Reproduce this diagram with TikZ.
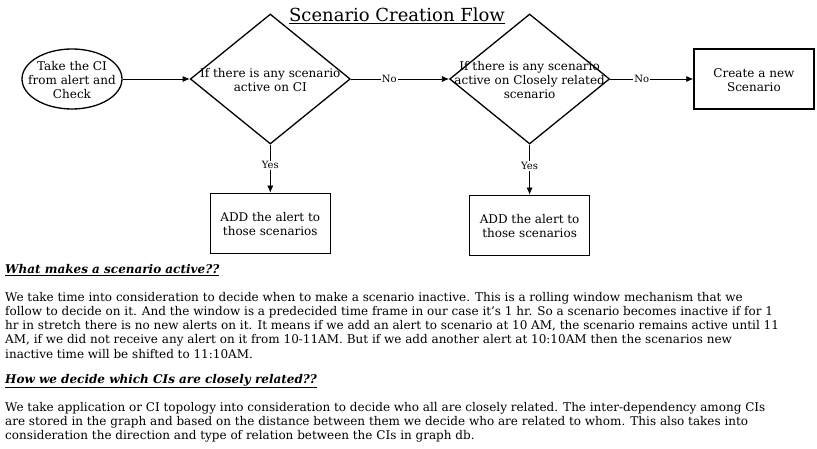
\documentclass[tikz,border=0pt]{standalone}
\usepackage{fontspec}
\setmainfont{DejaVu Serif}
\usetikzlibrary{shapes,arrows,arrows.meta,positioning}

% text that does not grow the shape round it
\newcommand{\flatbox}[1]{\smash{\makebox[0pt]{\raisebox{-.47em}{\begin{tabular}{@{}c@{}}#1\end{tabular}}}}}

\begin{document}
\begin{tikzpicture}[x=1pt, y=-1pt,
        every node/.style={font=\fontsize{12}{14}\selectfont},
        startnode/.style={ellipse, draw, line width=1.3pt, minimum width=100pt, minimum height=60pt, inner sep=0pt},
        decision/.style={diamond, draw, line width=1.3pt, minimum width=160pt, minimum height=130pt, inner sep=0pt},
        process/.style={rectangle, draw, line width=1.3pt, minimum width=120pt, minimum height=60pt, inner sep=0pt},
        arrow/.style={-{Latex[length=7pt,width=6pt]}, line width=0.7pt},
        lbl/.style={fill=white, inner sep=1pt, font=\fontsize{10}{12}\selectfont},
        heading/.style={anchor=west, inner sep=0pt, font=\fontsize{12}{14}\selectfont\bfseries\itshape},
        para/.style={anchor=north west, align=left, inner sep=0pt, font=\fontsize{12}{14.2}\selectfont}]
        \useasboundingbox (0,0) rectangle (817,449);

        \node [font=\fontsize{18}{22}\selectfont] (title) at (397,16) {\underline{Scenario Creation Flow}};

        % flow
        \node [startnode] (start) at (72,79) {\flatbox{Take the CI\\from alert and\\Check}};
        \node [decision, right=67pt of start] (ciactive) {\flatbox{If there is any scenario\\active on CI}};
        \node [decision, right=98pt of ciactive] (relactive) {\flatbox{If there is any scenario\\active on Closely related\\scenario}};
        \node [process, right=83pt of relactive] (newscn) {\flatbox{Create a new\\Scenario}};
        \node [process, below=48pt of ciactive] (addci) {\flatbox{ADD the alert to\\those scenarios}};
        \node [process, below=50pt of relactive] (addrel) {\flatbox{ADD the alert to\\those scenarios}};

        \draw [arrow] (start) -- (ciactive);
        \draw [arrow] (ciactive) -- node[lbl, pos=0.39] {No} (relactive);
        \draw [arrow] (relactive) -- node[lbl, pos=0.38] {No} (newscn);
        \draw [arrow] (ciactive) -- node[lbl, pos=0.43] {Yes} (addci);
        \draw [arrow] (relactive) -- node[lbl, pos=0.43] {Yes} (addrel);

        % notes
        \node [heading] (headactive) at (5,270) {\underline{What makes a scenario active??}};
        \node [para] (textactive) at (5,292) {We take time into consideration to decide when to make a scenario inactive. This is a rolling window mechanism that we\\
follow to decide on it. And the window is a predecided time frame in our case it's 1 hr. So a scenario becomes inactive if for 1\\
hr in stretch there is no new alerts on it. It means if we add an alert to scenario at 10 AM, the scenario remains active until 11\\
AM, if we did not receive any alert on it from 10-11AM. But if we add another alert at 10:10AM then the scenarios new\\
inactive time will be shifted to 11:10AM.};
        \node [heading] (headrelated) at (5,381) {\underline{How we decide which CIs are closely related??}};
        \node [para] (textrelated) at (5,402) {We take application or CI topology into consideration to decide who all are closely related. The inter-dependency among CIs\\
are stored in the graph and based on the distance between them we decide who are related to whom. This also takes into\\
consideration the direction and type of relation between the CIs in graph db.};
    \end{tikzpicture}
\end{document}
